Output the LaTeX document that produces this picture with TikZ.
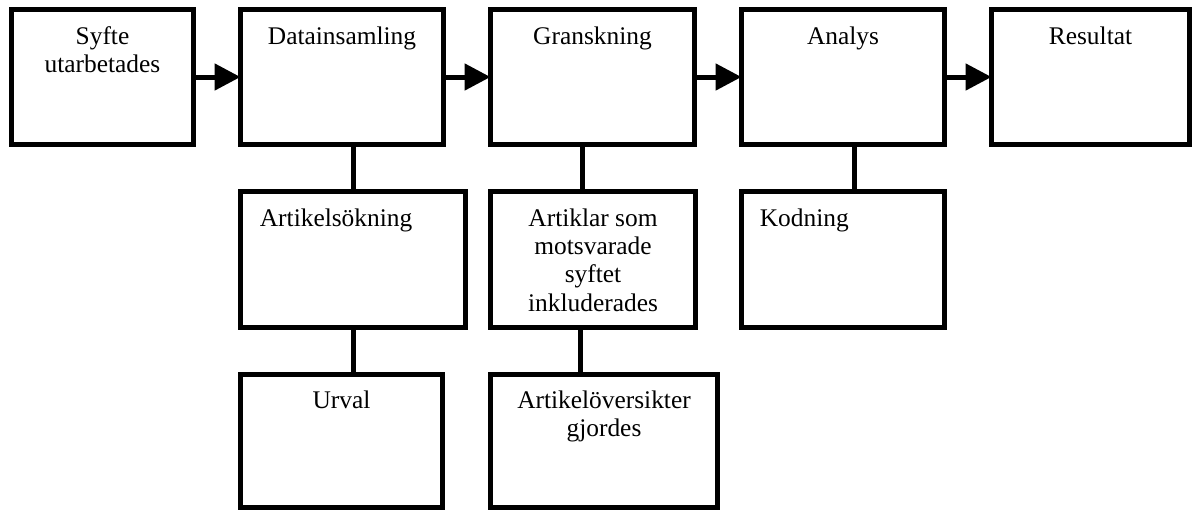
\documentclass[tikz,border=0pt]{standalone}
\usepackage{fontspec}
\setmainfont{Liberation Serif}
\usetikzlibrary{positioning,arrows.meta}
\begin{document}
\begin{tikzpicture}[x=0.5pt, y=-0.5pt,
    box/.style = {draw, line width=2.5pt, rectangle, anchor=north west, inner sep=0pt, outer sep=0pt},
    txt/.style = {font=\fontsize{12.7}{14.15}\selectfont, align=center, inner sep=0pt},
    link/.style = {line width=2.5pt},
    arr/.style = {line width=2.5pt, -{Triangle[length=13pt, width=13pt]}}]
    \useasboundingbox (0,0) rectangle (1194,510);
    % top row
    \node[box, minimum width=91pt, minimum height=67.5pt] (syfte) at (11.5,9.5) {};
    \node[box, minimum width=101.5pt, minimum height=67.5pt] (data) at (240.5,9.5) {};
    \node[box, minimum width=102pt, minimum height=67.5pt] (gransk) at (490.5,9.5) {};
    \node[box, minimum width=101.5pt, minimum height=67.5pt] (analys) at (741.5,9.5) {};
    \node[box, minimum width=99pt, minimum height=67.5pt] (result) at (991.5,9.5) {};
    % second row
    \node[box, minimum width=112.5pt, minimum height=68pt] (sok) at (240.5,191.5) {};
    \node[box, minimum width=102.5pt, minimum height=68pt] (inkl) at (490.5,191.5) {};
    \node[box, minimum width=101.5pt, minimum height=68pt] (kod) at (741.5,191.5) {};
    % third row
    \node[box, minimum width=101pt, minimum height=66.5pt] (urval) at (240.5,374.5) {};
    \node[box, minimum width=113.5pt, minimum height=66.5pt] (oversikt) at (490.5,374.5) {};
    % texts
    \node[txt, below=8.3pt of syfte.north] (t-syfte) {Syfte\\utarbetades};
    \node[txt, below=8.3pt of data.north] (t-data) {Datainsamling};
    \node[txt, below=8.3pt of gransk.north] (t-gransk) {Granskning};
    \node[txt, below=8.3pt of analys.north] (t-analys) {Analys};
    \node[txt, below=8.3pt of result.north] (t-result) {Resultat};
    \node[txt, anchor=north west, below right=8.3pt and 9.5pt of sok.north west] (t-sok) {Artikelsökning};
    \node[txt, below=8.3pt of inkl.north] (t-inkl) {Artiklar som\\motsvarade\\syftet\\inkluderades};
    \node[txt, anchor=north west, below right=8.3pt and 9pt of kod.north west] (t-kod) {Kodning};
    \node[txt, below=7.8pt of urval.north] (t-urval) {Urval};
    \node[txt, below=7.8pt of oversikt.north] (t-oversikt) {Artikelöversikter\\gjordes};
    % arrows
    \draw[arr] (syfte) -- (data);
    \draw[arr] (data) -- (gransk);
    \draw[arr] (gransk) -- (analys);
    \draw[arr] (analys) -- (result);
    % links
    \draw[link] (sok.north) -- (sok.north |- data.south);
    \draw[link] ([xshift=-5.5pt]inkl.north) -- ([xshift=-5.5pt]inkl.north |- gransk.south);
    \draw[link] ([xshift=5.5pt]kod.north) -- ([xshift=5.5pt]kod.north |- analys.south);
    \draw[link] (sok.south) -- (sok.south |- urval.north);
    \draw[link] ([xshift=-6.5pt]inkl.south) -- ([xshift=-6.5pt]inkl.south |- oversikt.north);
\end{tikzpicture}
\end{document}
